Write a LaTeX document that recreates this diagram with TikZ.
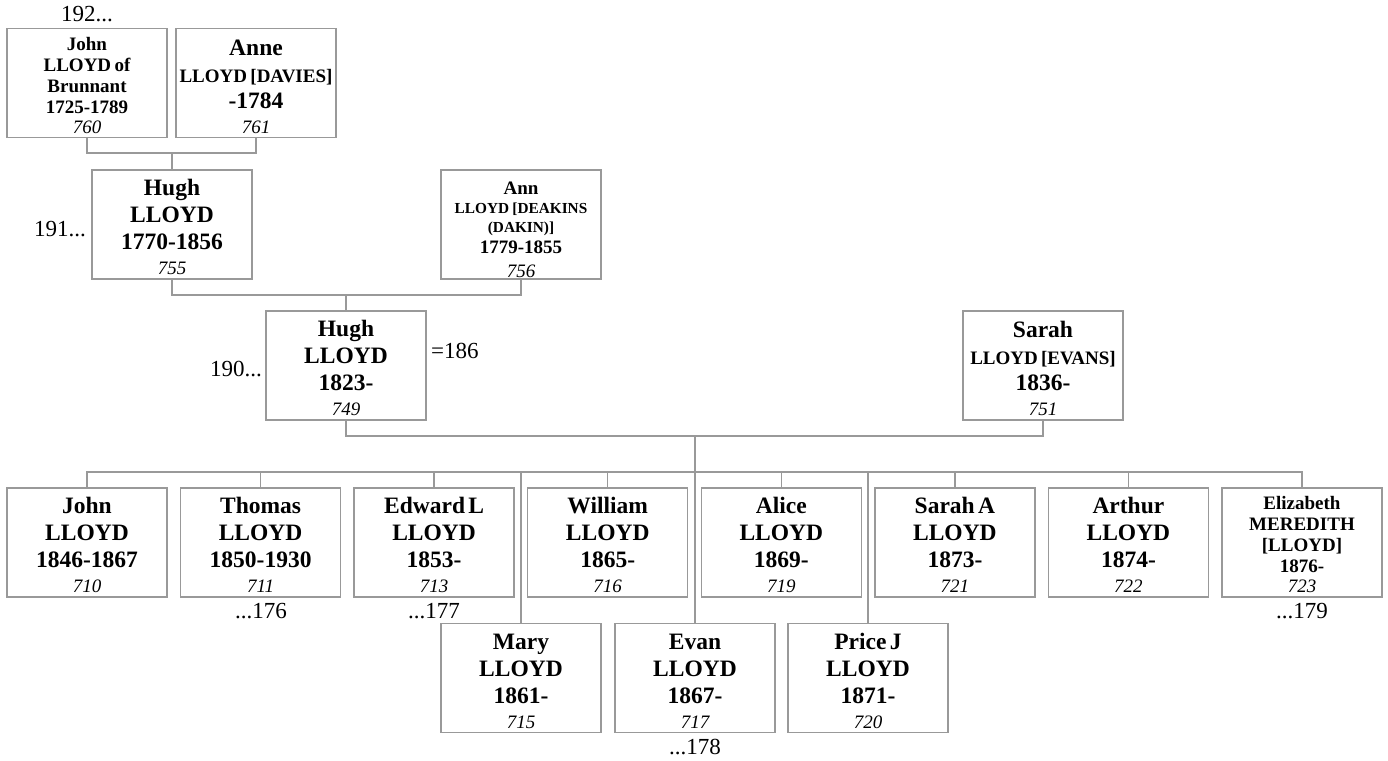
\documentclass[tikz,border=0pt]{standalone}
\usepackage{fontspec}
\setmainfont{Liberation Serif}
\definecolor{lgray}{HTML}{999999}
\newcommand\LBg[1]{\fontsize{23.5}{0}\selectfont\bfseries\upshape\rule[-7pt]{0pt}{27pt}#1}
\newcommand\LMd[1]{\fontsize{19}{0}\selectfont\bfseries\upshape\rule[-6pt]{0pt}{26pt}#1}
\newcommand\LSm[1]{\fontsize{19}{0}\selectfont\bfseries\upshape\rule[-6pt]{0pt}{21pt}#1}
\newcommand\LTn[1]{\fontsize{15.3}{0}\selectfont\bfseries\upshape\rule[-6pt]{0pt}{19pt}#1}
\newcommand\LNm[1]{\fontsize{19}{0}\selectfont\mdseries\itshape\rule[-5pt]{0pt}{19pt}#1}
\newcommand\LNb[1]{\fontsize{19}{0}\selectfont\mdseries\itshape\rule[-5pt]{0pt}{23pt}#1}
\newcommand\LSet{\lineskip=0pt\lineskiplimit=0pt\parindent=0pt}
\tikzset{
  pbox/.style={draw=lgray, line width=1.5pt, minimum width=160pt, minimum height=109pt, inner sep=0pt, fill=white},
  ptext/.style={text width=170pt, align=center, inner sep=0pt, anchor=south, font=\LSet},
  conn/.style={draw=lgray, line width=1.5pt},
  lbl/.style={font=\fontsize{23}{27}\selectfont, inner sep=0pt}
}
\begin{document}
\begin{tikzpicture}[x=1pt,y=-1pt]
\useasboundingbox (0,0) rectangle (1388,760);
% generation 1
\node[pbox] (j760) at (87,83) {};
\node[pbox] (a761) at (256,83) {};
\node[pbox] (h755) at (172,224.5) {};
\node[pbox] (n756) at (521,224.5) {};
\node[pbox] (h749) at (346,365.5) {};
\node[pbox] (s751) at (1043,365.5) {};
% children top row
\node[pbox] (c710) at (87,542.5) {};
\node[pbox] (c711) at (260.6,542.5) {};
\node[pbox] (c713) at (434.1,542.5) {};
\node[pbox] (c716) at (607.7,542.5) {};
\node[pbox] (c719) at (781.3,542.5) {};
\node[pbox] (c721) at (954.9,542.5) {};
\node[pbox] (c722) at (1128.4,542.5) {};
\node[pbox] (c723) at (1302,542.5) {};
% children bottom row
\node[pbox] (c715) at (521,678) {};
\node[pbox] (c717) at (695,678) {};
\node[pbox] (c720) at (868,678) {};
% texts
\node[ptext] (tj760) at (j760.south) {\LSm{John}\\\LSm{LLOYD of}\\\LSm{Brunnant}\\\LSm{1725-1789}\\\LNm{760}};
\node[ptext] (ta761) at (a761.south) {\LBg{Anne}\\\LMd{LLOYD [DAVIES]}\\\LBg{-1784}\\\LNb{761}};
\node[ptext] (th755) at (h755.south) {\LBg{Hugh}\\\LBg{LLOYD}\\\LBg{1770-1856}\\\LNb{755}};
\node[ptext, yshift=-3pt] (tn756) at (n756.south) {\LSm{Ann}\\\LTn{LLOYD [DEAKINS}\\\LTn{(DAKIN)]}\\\LSm{1779-1855}\\\LNb{756}};
\node[ptext] (th749) at (h749.south) {\LBg{Hugh}\\\LBg{LLOYD}\\\LBg{1823-}\\\LNb{749}};
\node[ptext] (ts751) at (s751.south) {\LBg{Sarah}\\\LMd{LLOYD [EVANS]}\\\LBg{1836-}\\\LNb{751}};
\node[ptext] (tc710) at (c710.south) {\LBg{John}\\\LBg{LLOYD}\\\LBg{1846-1867}\\\LNb{710}};
\node[ptext] (tc711) at (c711.south) {\LBg{Thomas}\\\LBg{LLOYD}\\\LBg{1850-1930}\\\LNb{711}};
\node[ptext] (tc713) at (c713.south) {\LBg{Edward L}\\\LBg{LLOYD}\\\LBg{1853-}\\\LNb{713}};
\node[ptext] (tc716) at (c716.south) {\LBg{William}\\\LBg{LLOYD}\\\LBg{1865-}\\\LNb{716}};
\node[ptext] (tc719) at (c719.south) {\LBg{Alice}\\\LBg{LLOYD}\\\LBg{1869-}\\\LNb{719}};
\node[ptext] (tc721) at (c721.south) {\LBg{Sarah A}\\\LBg{LLOYD}\\\LBg{1873-}\\\LNb{721}};
\node[ptext] (tc722) at (c722.south) {\LBg{Arthur}\\\LBg{LLOYD}\\\LBg{1874-}\\\LNb{722}};
\node[ptext] (tc723) at (c723.south) {\LSm{Elizabeth}\\\LSm{MEREDITH}\\\LSm{[LLOYD]}\\\LSm{1876-}\\\LNm{723}};
\node[ptext] (tc715) at (c715.south) {\LBg{Mary}\\\LBg{LLOYD}\\\LBg{1861-}\\\LNb{715}};
\node[ptext] (tc717) at (c717.south) {\LBg{Evan}\\\LBg{LLOYD}\\\LBg{1867-}\\\LNb{717}};
\node[ptext] (tc720) at (c720.south) {\LBg{Price J}\\\LBg{LLOYD}\\\LBg{1871-}\\\LNb{720}};
% connectors
\coordinate (b1) at (172,153);
\draw[conn] (j760.south) |- (b1) -| (a761.south);
\draw[conn] (b1) -- (h755.north);
\coordinate (b2) at (346,295);
\draw[conn] (h755.south) |- (b2) -| (n756.south);
\draw[conn] (b2) -- (h749.north);
\coordinate (b3) at (695,436);
\draw[conn] (h749.south) |- (b3) -| (s751.south);
\draw[conn] (b3) -- (c717.north);
\coordinate (cb) at (695,472);
\draw[conn] (c710.north) |- (cb) -| (c723.north);
\foreach \c in {c711,c713,c716,c719,c721,c722,c715,c720}
  \draw[conn] (\c.north) -- (\c.north |- cb);
% labels
\node[lbl, anchor=base] (l192) at (87,22) {192...};
\node[lbl, anchor=base east] (l191) at (86,236) {191...};
\node[lbl, anchor=base east] (l190) at (262,376) {190...};
\node[lbl, anchor=base west] (l186) at (431,358) {=186};
\node[lbl, anchor=base] (l176) at (261,618) {...176};
\node[lbl, anchor=base] (l177) at (434,618) {...177};
\node[lbl, anchor=base] (l178) at (695,754) {...178};
\node[lbl, anchor=base] (l179) at (1302,618) {...179};
\end{tikzpicture}
\end{document}
